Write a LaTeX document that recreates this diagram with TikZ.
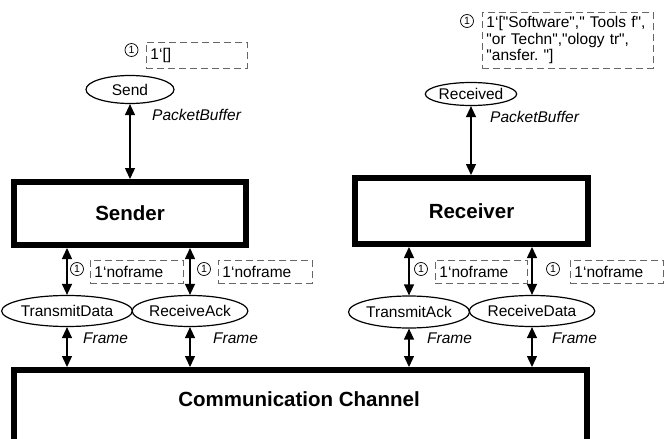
\documentclass[tikz,border=0pt]{standalone}
\usepackage{fontspec}
\setmainfont{Liberation Sans}[Ligatures=TeXOff]
\usetikzlibrary{shapes.geometric,arrows.meta}
\frenchspacing

\begin{document}
\begin{tikzpicture}[x=1pt,y=-1pt,
  place/.style={ellipse,draw,line width=1.2pt,inner sep=0pt,font=\fontsize{15.5}{17}\selectfont},
  module/.style={draw,line width=6pt,inner sep=0pt,font=\fontsize{20.5}{24}\selectfont\bfseries},
  colset/.style={anchor=west,inner sep=0pt,font=\fontsize{15.5}{17}\selectfont\itshape},
  marking/.style={draw=black!60,dash pattern=on 7pt off 4pt,line width=0.9pt,anchor=north west,
    align=left,inner xsep=4pt,inner ysep=2pt,font=\fontsize{15.5}{16.5}\selectfont},
  tokens/.style={circle,draw,line width=0.7pt,minimum size=13pt,inner sep=0pt,font=\fontsize{10.5}{10.5}\selectfont},
  arc/.style={{Triangle[width=10pt,length=11pt]}-{Triangle[width=10pt,length=11pt]},line width=1.4pt}]
\useasboundingbox (0,0) rectangle (665,439);

% modules
\node[module,minimum width=232pt,minimum height=63pt] (sender) at (130,213.5) {Sender};
\node[module,minimum width=233pt,minimum height=66pt] (receiver) at (471.5,211) {Receiver};
\node[module,minimum width=573pt,minimum height=120pt,anchor=north] (channel) at (300.5,367) {};
\node[font=\fontsize{20.5}{24}\selectfont\bfseries] (chname) at (299,399) {Communication Channel};

% places
\node[place,minimum width=88pt,minimum height=28pt] (send) at (130,89.5) {Send};
\node[place,minimum width=88pt,minimum height=23pt] (received) at (471,94) {Received};
\node[place,minimum width=109pt,minimum height=31pt] (transdata) at (67,311) {TransmitData};
\node[place,minimum width=112pt,minimum height=31pt] (recack) at (190,311) {ReceiveAck};
\node[place,minimum width=110pt,minimum height=32pt] (transack) at (409,312) {TransmitAck};
\node[place,minimum width=110pt,minimum height=31pt] (recdata) at (532,311) {ReceiveData};

% colour sets
\node[colset] (sendtype) at (152,115) {PacketBuffer};
\node[colset] (rectype) at (490,117) {PacketBuffer};
\node[colset] (tdtype) at (83,338) {Frame};
\node[colset] (ratype) at (213,338) {Frame};
\node[colset] (tatype) at (427,338) {Frame};
\node[colset] (rdtype) at (552,338) {Frame};

% markings
\node[tokens] (sendnum) at (131.5,50) {1};
\node[marking,text width=93pt,minimum height=26pt] (sendinit) at (146,42) {1‘[]};
\node[tokens] (recnum) at (467,21) {1};
\node[marking,text width=163pt,minimum height=56pt] (recinit) at (482,12) {1‘["Software"," Tools f",\\"or Techn","ology tr",\\"ansfer. "]};
\node[tokens] (tdnum) at (77,269) {1};
\node[marking,text width=85pt,minimum height=23pt] (tdinit) at (90,260) {1‘noframe};
\node[tokens] (ranum) at (204,269) {1};
\node[marking,text width=86pt,minimum height=23pt] (rainit) at (218,260) {1‘noframe};
\node[tokens] (tanum) at (421,269) {1};
\node[marking,text width=84pt,minimum height=23pt] (tainit) at (435,260) {1‘noframe};
\node[tokens] (rdnum) at (553,269) {1};
\node[marking,text width=85pt,minimum height=23pt] (rdinit) at (570,260) {1‘noframe};

% arcs
\draw[arc] (send.south) -- (send.south |- sender.north);
\draw[arc] (received.south) -- (received.south |- receiver.north);
\foreach \p/\m in {transdata/sender,recack/sender,transack/receiver,recdata/receiver}{
  \draw[arc] (\m.south -| \p.north) -- (\p.north);
  \draw[arc] (\p.south) -- (\p.south |- channel.north);
}
\end{tikzpicture}
\end{document}
